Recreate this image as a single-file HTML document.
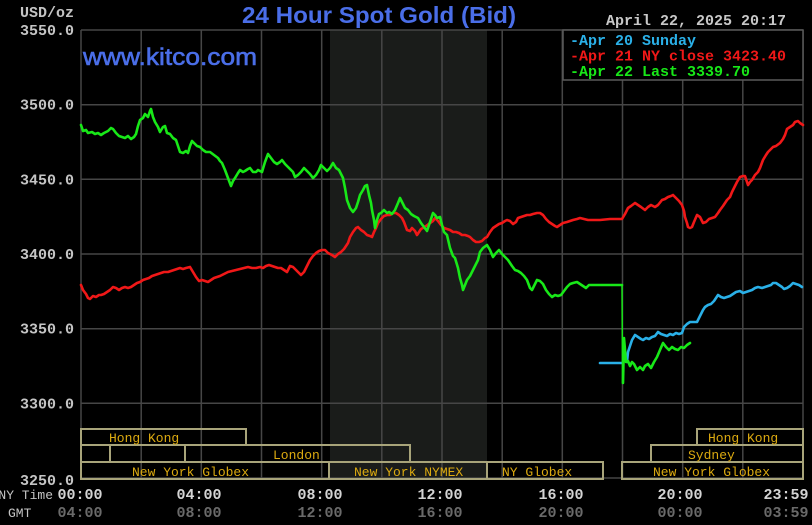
<!DOCTYPE html>
<html>
<head>
<meta charset="utf-8">
<style>
html,body{margin:0;padding:0;background:#000;}
svg{display:block;}
</style>
</head>
<body>
<svg width="812" height="525" viewBox="0 0 812 525" xmlns="http://www.w3.org/2000/svg">
<rect x="0" y="0" width="812" height="525" fill="#000"/>
<!-- shaded region -->
<rect x="330" y="30" width="157" height="449" fill="#1a1c1a"/>
<!-- grid -->
<g stroke="#464646" stroke-width="1.5" fill="none">
<line x1="81" y1="30" x2="803" y2="30"/>
<line x1="81" y1="104.7" x2="803" y2="104.7"/>
<line x1="81" y1="179.3" x2="803" y2="179.3"/>
<line x1="81" y1="254" x2="803" y2="254"/>
<line x1="81" y1="328.7" x2="803" y2="328.7"/>
<line x1="81" y1="403.3" x2="803" y2="403.3"/>
<line x1="81" y1="478" x2="803" y2="478"/>
<line x1="81" y1="30" x2="81" y2="479"/>
<line x1="141.2" y1="30" x2="141.2" y2="479"/>
<line x1="201.3" y1="30" x2="201.3" y2="479"/>
<line x1="261.5" y1="30" x2="261.5" y2="479"/>
<line x1="321.7" y1="30" x2="321.7" y2="479"/>
<line x1="381.8" y1="30" x2="381.8" y2="479"/>
<line x1="442" y1="30" x2="442" y2="479"/>
<line x1="502.2" y1="30" x2="502.2" y2="479"/>
<line x1="562.3" y1="30" x2="562.3" y2="479"/>
<line x1="622.5" y1="30" x2="622.5" y2="479"/>
<line x1="682.7" y1="30" x2="682.7" y2="479"/>
<line x1="742.8" y1="30" x2="742.8" y2="479"/>
<line x1="803" y1="30" x2="803" y2="479"/>
</g>

<!-- session boxes -->
<g stroke="#a8a47a" stroke-width="2" fill="none">
<rect x="81" y="429" width="165" height="16"/>
<rect x="81" y="445" width="29" height="17"/>
<rect x="110" y="445" width="75" height="17"/>
<rect x="185" y="445" width="225" height="17"/>
<rect x="81" y="462" width="248" height="17"/>
<rect x="329" y="462" width="158" height="17"/>
<rect x="487" y="462" width="116" height="17"/>
<rect x="697" y="429" width="106" height="16"/>
<rect x="651" y="445" width="152" height="17"/>
<rect x="622" y="462" width="181" height="17"/>
</g>
<g fill="#dcaa10" font-family="Liberation Mono, monospace" font-size="13">
<text x="109" y="442">Hong Kong</text>
<text x="273" y="459">London</text>
<text x="132" y="476">New York Globex</text>
<text x="354" y="476">New York NYMEX</text>
<text x="502" y="476">NY Globex</text>
<text x="708" y="442">Hong Kong</text>
<text x="688" y="459">Sydney</text>
<text x="653" y="476">New York Globex</text>
</g>

<!-- series -->
<g fill="none" stroke-width="2.6" stroke-linejoin="round" stroke-linecap="round">
<polyline stroke="#f01818" points="81,285 83,290 86,294 88,298 90,299 93,296 96,297 99,295 101,295 104,294 107,292 110,290 113,287 116,288 119,290 122,288 125,287 128,288 131,287 134,285 137,283 140,282 143,280 146,279 149,278 152,276 155,275 158,274 161,273 164,272 168,272 171,271 174,270 177,269 180,268 183,269 186,268 190,267 193,272 196,277 199,281 202,280 205,281 208,282 211,280 214,278 217,277 220,276 224,274 228,272 232,271 236,270 240,269 244,268 248,267 252,268 256,268 260,267 263,268 266,266 269,265 272,266 275,267 278,268 281,268 284,270 287,272 290,266 293,267 296,270 299,273 301,275 304,272 307,266 310,260 313,256 316,253 319,251 322,250 325,250 328,253 332,255 335,257 338,254 341,252 344,249 346,246 348,243 350,237 353,232 356,228 358,227 361,230 364,232 367,235 370,236 372,237 374,232 376,228 378,223 381,219 384,216 387,215 390,215 393,213 396,213 399,215 402,218 404,222 407,230 410,231 412,228 415,231 417,235 419,232 421,229 423,228 426,226 430,223 433,221 435,218 438,221 441,225 444,228 447,229 450,230 453,232 456,232 459,233 462,235 465,235 468,236 470,237 473,240 476,242 479,242 482,241 485,238 487,237 490,232 493,228 496,226 499,224 502,223 505,221 507,220 510,221 513,224 516,222 518,218 521,217 524,216 527,215 530,215 533,214 537,213 540,213 543,215 546,219 549,222 552,224 555,226 557,227 560,225 563,223 567,222 570,221 573,220 577,219 580,218 584,219 588,220 593,220 600,220 610,219 622,219 625,214 628,208 631,206 635,203 638,205 641,207 645,210 648,207 651,205 655,207 658,205 662,200 665,199 668,197 671,196 673,195 676,198 679,201 682,205 684,211 685,217 687,223 688,227 690,228 692,227 694,222 697,215 700,217 703,223 706,222 709,219 712,218 715,217 718,213 720,210 723,206 727,200 730,197 732,192 735,186 737,182 740,177 743,176 745,176 748,185 750,182 752,180 755,175 758,172 760,168 763,160 766,155 768,152 771,149 773,147 776,146 780,143 783,139 785,135 787,129 790,127 793,125 795,122 798,121 800,123 803,125"/>
<polyline stroke="#2ab0e8" points="600,363 622,363"/>
<polyline stroke="#2ab0e8" points="627,362 628,352 630,346 632,340 635,335 638,337 641,339 643,340 646,338 649,339 652,337 655,336 658,332 661,334 664,335 667,336 670,334 673,335 676,333 679,334 682,333 684,327 687,324 690,322 693,322 697,322 700,316 703,310 705,307 708,305 711,304 714,301 716,298 718,295 721,297 724,298 727,297 730,296 733,294 736,292 740,291 743,293 746,292 749,291 752,290 755,288 758,287 762,288 765,287 768,286 771,285 773,283 776,283 779,285 782,287 784,289 787,288 790,286 793,283 796,284 799,285 802,287"/>
<polyline stroke="#18e818" points="81,125 83,131 86,130 88,133 92,132 95,134 98,133 101,135 104,133 108,131 111,128 113,129 116,133 119,136 122,137 125,138 128,136 131,139 134,137 136,134 138,126 140,120 143,118 145,114 148,117 150,111 151,109 153,117 155,122 158,127 160,132 163,127 165,126 167,133 170,134 173,138 176,140 178,146 180,152 183,153 186,151 188,153 190,146 192,141 195,144 197,146 200,147 203,150 206,152 210,152 214,155 218,158 220,161 222,163 225,170 228,178 231,186 233,181 235,178 238,173 240,170 243,172 245,171 248,169 250,168 253,172 256,172 258,170 262,172 265,162 268,154 271,158 274,162 277,164 280,162 282,160 285,164 288,167 291,170 293,172 295,177 298,175 301,172 304,168 307,171 310,174 313,178 316,175 319,170 321,165 324,168 327,171 330,168 333,163 336,168 339,170 341,174 343,178 345,188 347,200 350,208 353,212 356,208 358,202 360,195 363,190 365,186 367,185 369,195 371,203 372,210 374,220 375,228 377,220 379,214 381,213 384,210 387,213 389,212 392,214 395,210 398,203 400,198 403,204 405,208 408,210 411,214 414,216 418,218 421,223 424,227 427,231 430,222 433,213 435,215 437,218 440,217 442,225 444,232 447,235 450,248 453,256 455,258 458,268 460,278 462,285 463,290 465,285 467,280 470,276 473,270 476,264 478,260 480,252 483,248 487,245 490,250 493,257 496,253 499,250 502,254 505,257 508,260 512,266 515,270 518,271 521,273 524,276 527,280 530,288 532,290 534,286 537,280 540,281 543,284 546,290 549,294 552,297 555,295 558,296 561,295 564,291 567,287 570,284 573,283 577,282 580,284 583,286 586,288 589,285 594,285 600,285 610,285 622,285"/>
<polyline stroke="#18e818" stroke-width="1.5" points="622,285 622.5,383"/>
<polyline stroke="#18e818" points="623,383 624,338 626,362 628,361 630,366 632,362 634,364 637,370 640,367 643,370 645,366 648,364 651,368 654,362 657,357 660,350 663,343 666,347 669,350 672,347 675,349 678,350 681,347 684,348 687,345 690,343"/>
</g>

<!-- legend -->
<rect x="563" y="30" width="240" height="50" fill="#000" stroke="#5a5a5a" stroke-width="1.5"/>
<g font-family="Liberation Mono, monospace" font-size="15" font-weight="bold">
<text x="570" y="45" fill="#2ab0e8">-Apr 20 Sunday</text>
<text x="570" y="60.5" fill="#f01818">-Apr 21 NY close 3423.40</text>
<text x="570" y="76" fill="#18e818">-Apr 22 Last 3339.70</text>
</g>

<!-- titles -->
<text x="379" y="23" text-anchor="middle" font-family="Liberation Sans, Arial, sans-serif" font-size="23" font-weight="bold" fill="#4a6ee8" textLength="274" lengthAdjust="spacingAndGlyphs">24 Hour Spot Gold (Bid)</text>
<text x="83" y="65" font-family="Liberation Sans, Arial, sans-serif" font-size="24" fill="#4a6ee8" stroke="#4a6ee8" stroke-width="0.6" textLength="174" lengthAdjust="spacingAndGlyphs">www.kitco.com</text>
<text x="606" y="25" font-family="Liberation Mono, monospace" font-size="15" font-weight="bold" fill="#c8c8c8">April 22, 2025 20:17</text>

<!-- y axis -->
<g font-family="Liberation Mono, monospace" font-size="15" font-weight="bold" fill="#c4c4c4" text-anchor="end">
<text x="74" y="17">USD/oz</text>
<text x="74" y="35">3550.0</text>
<text x="74" y="109.7">3500.0</text>
<text x="74" y="184.3">3450.0</text>
<text x="74" y="259">3400.0</text>
<text x="74" y="333.7">3350.0</text>
<text x="74" y="408.3">3300.0</text>
<text x="74" y="485">3250.0</text>
</g>

<!-- x axis -->
<g font-family="Liberation Mono, monospace" font-size="13" fill="#c4c4c4">
<text x="53" y="499" text-anchor="end">NY Time</text>
<text x="8" y="517">GMT</text>
</g>
<g font-family="Liberation Mono, monospace" font-size="15" font-weight="bold" fill="#d4d4d4" text-anchor="middle">
<text x="80" y="499">00:00</text>
<text x="199" y="499">04:00</text>
<text x="320" y="499">08:00</text>
<text x="440" y="499">12:00</text>
<text x="561" y="499">16:00</text>
<text x="680" y="499">20:00</text>
<text x="786" y="499">23:59</text>
</g>
<g font-family="Liberation Mono, monospace" font-size="15" font-weight="bold" fill="#6a6a6a" text-anchor="middle">
<text x="80" y="517">04:00</text>
<text x="199" y="517">08:00</text>
<text x="320" y="517">12:00</text>
<text x="440" y="517">16:00</text>
<text x="561" y="517">20:00</text>
<text x="680" y="517">00:00</text>
<text x="786" y="517">03:59</text>
</g>
</svg>
</body>
</html>
